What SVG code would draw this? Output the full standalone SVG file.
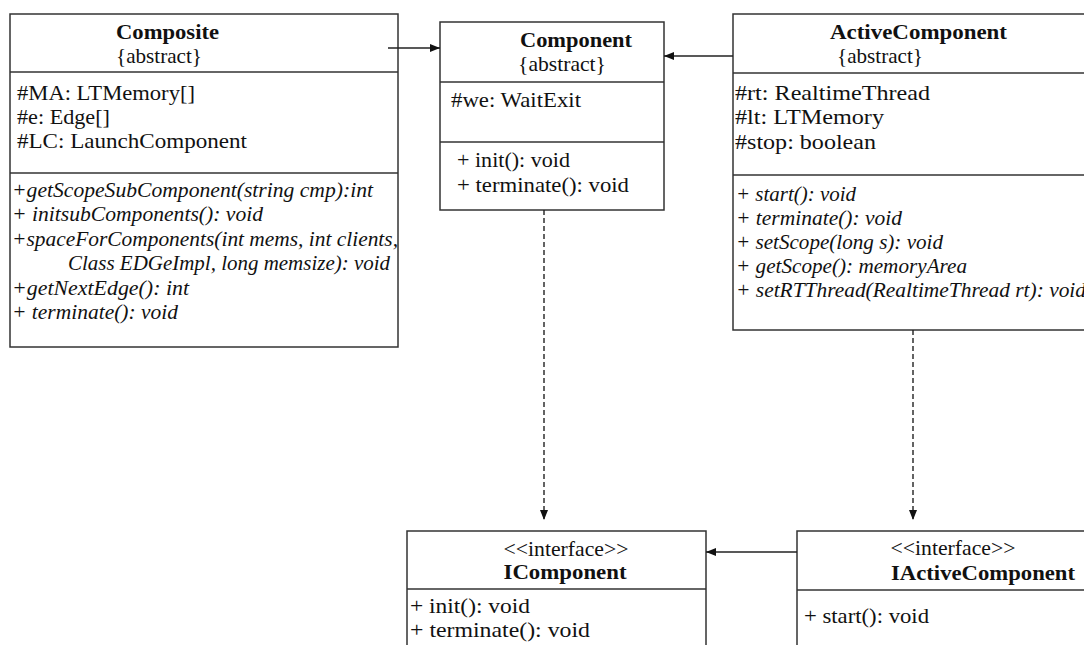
<svg xmlns="http://www.w3.org/2000/svg" width="1084" height="645" viewBox="0 0 1084 645">
  <style>
    .box { fill: #ffffff; stroke: #333333; stroke-width: 1.5; }
    .sep { stroke: #333333; stroke-width: 1.5; }
    .t { font-family: "Liberation Serif", "Times New Roman", serif; font-size: 21px; fill: #111111; }
    .b { font-weight: bold; }
    .i { font-style: italic; }
    .m { text-anchor: middle; }
    .edge { fill: none; stroke: #222222; stroke-width: 1.4; }
    .dash { stroke-dasharray: 5 3; }
  </style>
  <defs>
    <marker id="head" markerUnits="userSpaceOnUse" markerWidth="10" markerHeight="8" refX="10" refY="4" orient="auto">
      <path d="M0,0 L10,4 L0,8 z" fill="#111111" stroke="none"/>
    </marker>
  </defs>

  <rect width="1084" height="645" fill="#ffffff"/>

  <!-- Composite -->
  <g id="composite">
    <rect class="box" x="10" y="14" width="388" height="333"/>
    <line class="sep" x1="10" y1="72" x2="398" y2="72"/>
    <line class="sep" x1="10" y1="173" x2="398" y2="173"/>
    <text class="t b" x="116" y="39" textLength="103" lengthAdjust="spacingAndGlyphs">Composite</text>
    <text class="t" x="116" y="63" textLength="86" lengthAdjust="spacingAndGlyphs">{abstract}</text>
    <text class="t" x="17" y="100" textLength="178" lengthAdjust="spacingAndGlyphs">#MA: LTMemory[]</text>
    <text class="t" x="17" y="124" textLength="93" lengthAdjust="spacingAndGlyphs">#e: Edge[]</text>
    <text class="t" x="17" y="148" textLength="230" lengthAdjust="spacingAndGlyphs">#LC: LaunchComponent</text>
    <text class="t i" x="12" y="197" textLength="361" lengthAdjust="spacingAndGlyphs">+getScopeSubComponent(string cmp):int</text>
    <text class="t i" x="12" y="221" textLength="251" lengthAdjust="spacingAndGlyphs">+ initsubComponents(): void</text>
    <text class="t i" x="12" y="246" textLength="386" lengthAdjust="spacingAndGlyphs">+spaceForComponents(int mems, int clients,</text>
    <text class="t i" x="68" y="270" textLength="322" lengthAdjust="spacingAndGlyphs">Class EDGeImpl, long memsize): void</text>
    <text class="t i" x="12" y="295" textLength="177" lengthAdjust="spacingAndGlyphs">+getNextEdge(): int</text>
    <text class="t i" x="12" y="319" textLength="166" lengthAdjust="spacingAndGlyphs">+ terminate(): void</text>
  </g>

  <!-- Component -->
  <g id="component">
    <rect class="box" x="440" y="22" width="224" height="188"/>
    <line class="sep" x1="440" y1="82" x2="664" y2="82"/>
    <line class="sep" x1="440" y1="142" x2="664" y2="142"/>
    <text class="t b" x="520" y="47" textLength="112" lengthAdjust="spacingAndGlyphs">Component</text>
    <text class="t" x="518" y="71" textLength="88" lengthAdjust="spacingAndGlyphs">{abstract}</text>
    <text class="t" x="451" y="107" textLength="130" lengthAdjust="spacingAndGlyphs">#we: WaitExit</text>
    <text class="t" x="457" y="167" textLength="113" lengthAdjust="spacingAndGlyphs">+ init(): void</text>
    <text class="t" x="457" y="192" textLength="172" lengthAdjust="spacingAndGlyphs">+ terminate(): void</text>
  </g>

  <!-- ActiveComponent -->
  <g id="active-component">
    <rect class="box" x="733" y="14" width="370" height="316"/>
    <line class="sep" x1="733" y1="73" x2="1103" y2="73"/>
    <line class="sep" x1="733" y1="175" x2="1103" y2="175"/>
    <text class="t b" x="830" y="39" textLength="177" lengthAdjust="spacingAndGlyphs">ActiveComponent</text>
    <text class="t" x="837" y="63" textLength="86" lengthAdjust="spacingAndGlyphs">{abstract}</text>
    <text class="t" x="735" y="100" textLength="195" lengthAdjust="spacingAndGlyphs">#rt: RealtimeThread</text>
    <text class="t" x="735" y="124" textLength="149" lengthAdjust="spacingAndGlyphs">#lt: LTMemory</text>
    <text class="t" x="735" y="149" textLength="141" lengthAdjust="spacingAndGlyphs">#stop: boolean</text>
    <text class="t i" x="736" y="201" textLength="120" lengthAdjust="spacingAndGlyphs">+ start(): void</text>
    <text class="t i" x="736" y="225" textLength="166" lengthAdjust="spacingAndGlyphs">+ terminate(): void</text>
    <text class="t i" x="736" y="249" textLength="207" lengthAdjust="spacingAndGlyphs">+ setScope(long s): void</text>
    <text class="t i" x="736" y="273" textLength="231" lengthAdjust="spacingAndGlyphs">+ getScope(): memoryArea</text>
    <text class="t i" x="736" y="297" textLength="350" lengthAdjust="spacingAndGlyphs">+ setRTThread(RealtimeThread rt): void</text>
  </g>

  <!-- IComponent -->
  <g id="icomponent">
    <rect class="box" x="407" y="531" width="299" height="130"/>
    <line class="sep" x1="407" y1="589" x2="706" y2="589"/>
    <text class="t m" x="566" y="556" textLength="125" lengthAdjust="spacingAndGlyphs">&lt;&lt;interface&gt;&gt;</text>
    <text class="t b m" x="565" y="579" textLength="123" lengthAdjust="spacingAndGlyphs">IComponent</text>
    <text class="t" x="410" y="613" textLength="120" lengthAdjust="spacingAndGlyphs">+ init(): void</text>
    <text class="t" x="410" y="637" textLength="180" lengthAdjust="spacingAndGlyphs">+ terminate(): void</text>
  </g>

  <!-- IActiveComponent -->
  <g id="iactive-component">
    <rect class="box" x="797" y="531" width="300" height="130"/>
    <line class="sep" x1="797" y1="590" x2="1097" y2="590"/>
    <text class="t m" x="953" y="555" textLength="125" lengthAdjust="spacingAndGlyphs">&lt;&lt;interface&gt;&gt;</text>
    <text class="t b" x="891" y="580" textLength="184" lengthAdjust="spacingAndGlyphs">IActiveComponent</text>
    <text class="t" x="804" y="623" textLength="125" lengthAdjust="spacingAndGlyphs">+ start(): void</text>
  </g>

  <!-- Connectors -->
  <g id="connectors">
    <line class="edge" x1="388" y1="48" x2="440" y2="48" marker-end="url(#head)"/>
    <line class="edge" x1="733" y1="56" x2="664" y2="56" marker-end="url(#head)"/>
    <line class="edge" x1="797" y1="552" x2="706" y2="552" marker-end="url(#head)"/>
    <line class="edge dash" x1="544" y1="210" x2="544" y2="520" marker-end="url(#head)"/>
    <line class="edge dash" x1="913" y1="330" x2="913" y2="520" marker-end="url(#head)"/>
  </g>
</svg>
